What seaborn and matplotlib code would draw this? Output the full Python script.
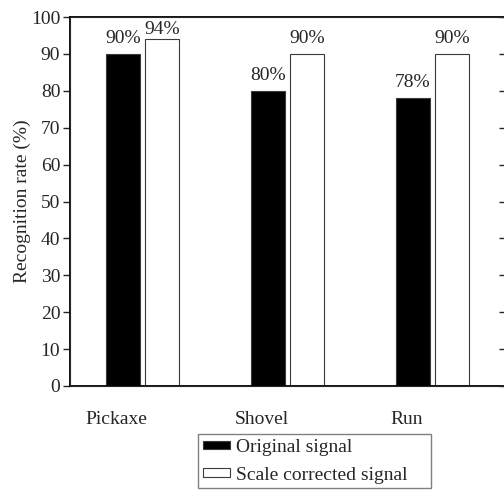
import numpy as np
import pandas as pd
import matplotlib
matplotlib.use('Agg')
import matplotlib.pyplot as plt
import matplotlib.transforms as mtransforms
import seaborn as sns

activities = ['Pickaxe', 'Shovel', 'Run']
original = [90, 80, 78]
corrected = [94, 90, 90]
series_names = ['Original signal', 'Scale corrected signal']
yticks = list(range(0, 101, 10))

df = pd.DataFrame({
    'activity': activities * 2,
    'rate': original + corrected,
    'signal': [series_names[0]] * len(activities) + [series_names[1]] * len(activities),
})

sns.set_style('ticks')
plt.rcParams['font.family'] = ['Liberation Serif', 'DejaVu Serif']
plt.rcParams['font.size'] = 14

fig = plt.figure(figsize=(5.04, 4.95), dpi=100)
ax = fig.add_axes([70 / 504, 1 - 386 / 495, 435 / 504, 369 / 495])

sns.barplot(data=df, x='activity', y='rate', hue='signal', order=activities,
            hue_order=series_names, palette=['black', 'white'],
            width=0.54, gap=0.15, edgecolor='#3a3a3a', linewidth=0.8,
            errorbar=None, ax=ax, legend=True)

# value labels, squeezed a bit when the bar nearly reaches the top
for cont in ax.containers:
    for bar, v in zip(cont, cont.datavalues):
        pad = 5 if v <= 90 else 1
        ax.annotate(f'{v:.0f}%', (bar.get_x() + bar.get_width() / 2, bar.get_height()),
                    xytext=(0, pad), textcoords='offset points',
                    ha='center', va='bottom', fontsize=14)

ax.set_xlim(-0.5, 2.5)
ax.set_ylim(0, 100)
ax.set_yticks(yticks)
ax.set_xlabel('')
ax.set_ylabel('Recognition rate (%)', fontsize=14, labelpad=0)
ax.tick_params(axis='y', direction='out', length=5, width=1, labelsize=14, pad=2)
ax.tick_params(axis='x', length=0, labelsize=14, pad=18)

offset = mtransforms.ScaledTranslation(-0.26, 0, fig.dpi_scale_trans)
for lab in ax.get_xticklabels():
    lab.set_transform(lab.get_transform() + offset)

for side in ['left', 'bottom', 'top', 'right']:
    ax.spines[side].set_visible(True)
    ax.spines[side].set_linewidth(1.3)
    ax.spines[side].set_color('black')

ax2 = ax.twinx()
ax2.set_ylim(0, 100)
ax2.set_yticks(yticks)
ax2.tick_params(axis='y', direction='in', length=4, width=1, labelright=False)

old = ax.get_legend()
handles = old.legend_handles
labels = [t.get_text() for t in old.get_texts()]
old.remove()
leg = fig.legend(handles, labels, loc='upper left',
                 bbox_to_anchor=(198 / 504, 0, 233 / 504, 1 - 434 / 495),
                 bbox_transform=fig.transFigure, mode='expand', fontsize=14,
                 frameon=True, fancybox=False, edgecolor='#808080',
                 framealpha=1, borderaxespad=0, borderpad=0.25,
                 labelspacing=0.55, handlelength=1.4, handleheight=0.3,
                 handletextpad=0.3)
leg.get_frame().set_linewidth(1.0)

fig.savefig('out.png', dpi=100)
